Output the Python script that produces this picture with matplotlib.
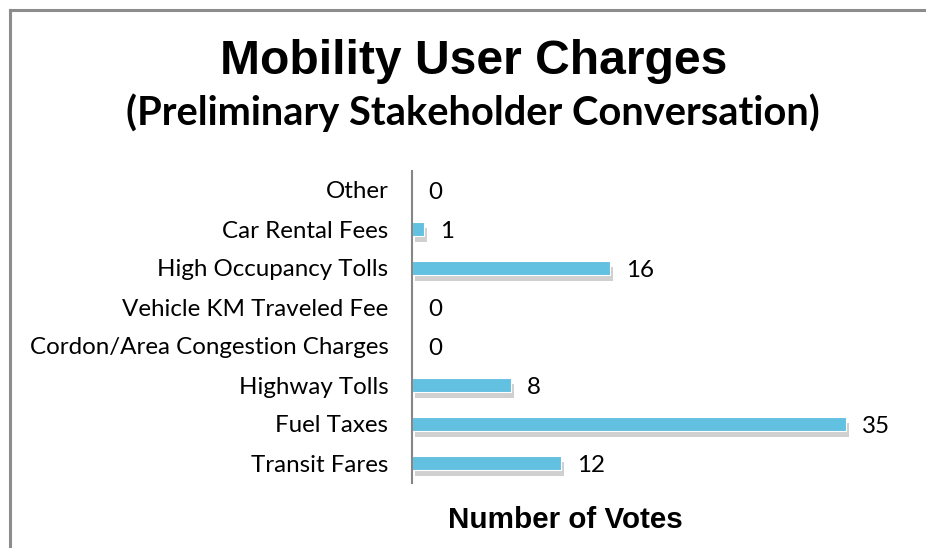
import matplotlib.pyplot as plt
import matplotlib.patheffects as pe

# chart data, bottom to top
categories = ["Transit Fares", "Fuel Taxes", "Highway Tolls",
              "Cordon/Area Congestion Charges", "Vehicle KM Traveled Fee",
              "High Occupancy Tolls", "Car Rental Fees", "Other"]
votes = [12, 35, 8, 0, 0, 16, 1, 0]

title = "Mobility User Charges"
subtitle = "(Preliminary Stakeholder Conversation)"
xlabel = "Number of Votes"

W, H = 926, 548
fig = plt.figure(figsize=(W / 100, H / 100), dpi=100)
fig.patch.set_facecolor("white")

# frame of the chart area (left and top visible)
fig.add_artist(plt.Line2D([10 / W, 10 / W], [0, 1 - 10 / H], color="#8c8c8c", lw=2.2,
                          transform=fig.transFigure))
fig.add_artist(plt.Line2D([10 / W, 1], [1 - 10 / H, 1 - 10 / H], color="#8c8c8c", lw=2.2,
                          transform=fig.transFigure))

ax = fig.add_axes([412 / W, 1 - 482.5 / H, 471 / W, 312 / H])
bars = ax.barh(range(len(categories)), votes, height=0.36, color="#62C0E0",
               edgecolor="white", linewidth=0.8)
for b in bars:
    b.set_path_effects([pe.SimplePatchShadow(offset=(2, -4), shadow_rgbFace="#8a8a8a", alpha=0.4),
                        pe.Normal()])

ax.set_xlim(0, 38)
ax.set_ylim(-0.5, len(categories) - 0.5)
ax.set_yticks(range(len(categories)))
ax.set_yticklabels(categories, fontsize=17.4, family="Lato")
ax.tick_params(axis="y", length=0, pad=17)
ax.set_xticks([])
for s in ["top", "right", "bottom"]:
    ax.spines[s].set_visible(False)
ax.spines["left"].set_color("#868686")
ax.spines["left"].set_linewidth(1.5)

labels = ax.bar_label(bars, padding=11.5, fontsize=17.4, family="Lato")
for t in labels:
    t.xyann = (11.5, -1.8)  # nudge down a bit to sit on bar centre

fig.text(474 / W, 1 - 62 / H, title, ha="center", va="center", fontsize=34.6,
         fontweight="bold", family="Liberation Sans")
fig.text(473 / W, 1 - 113 / H, subtitle, ha="center", va="center", fontsize=28.7,
         fontweight="bold", family="Lato")
fig.text(565 / W, 1 - 520 / H, xlabel, ha="center", va="center", fontsize=21.3,
         fontweight="bold", family="Liberation Sans")

fig.savefig("out.png", dpi=100, facecolor="white")
